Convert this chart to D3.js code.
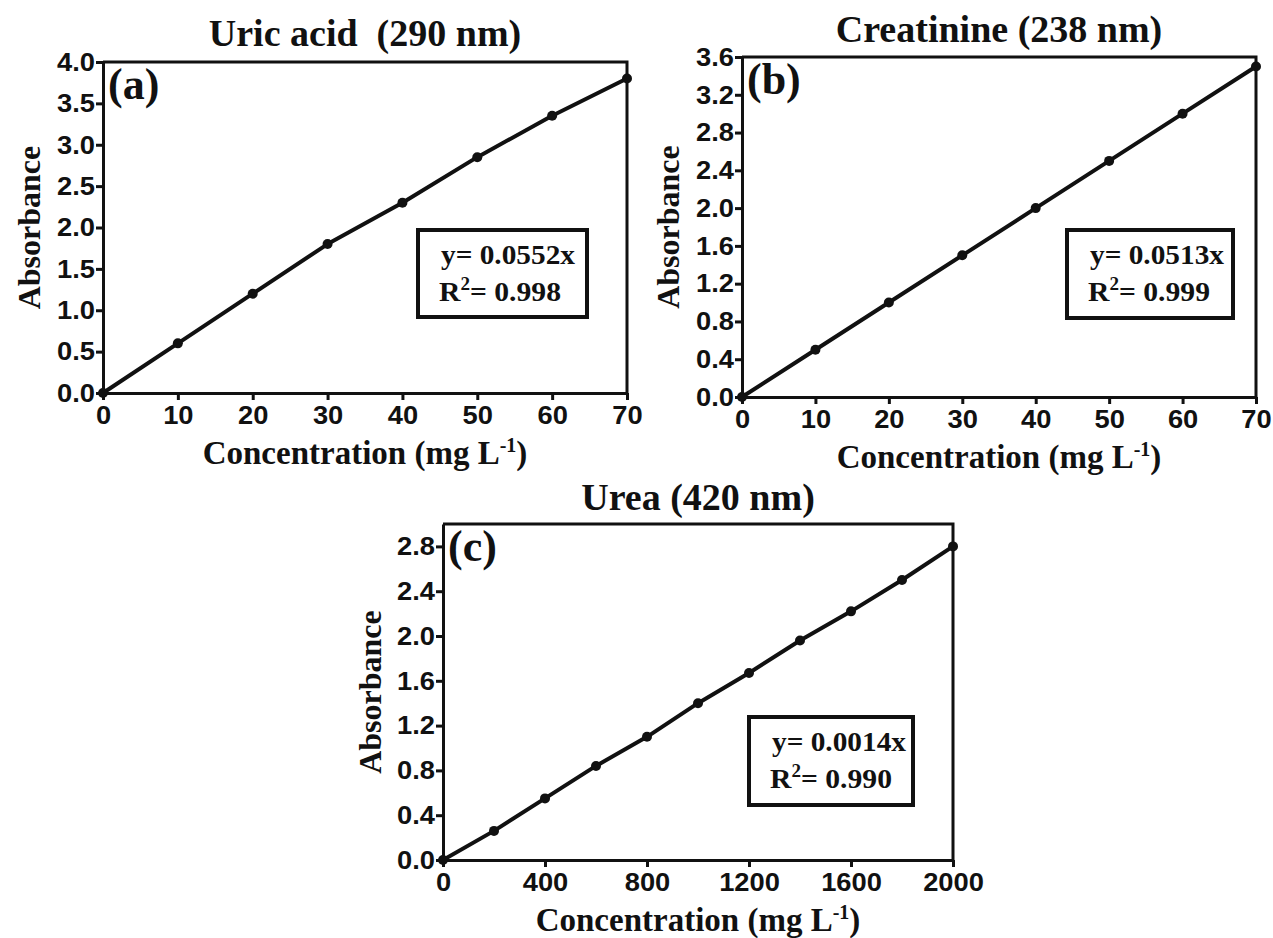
<!DOCTYPE html>
<html>
<head>
<meta charset="utf-8">
<script src="https://cdn.jsdelivr.net/npm/d3@7/dist/d3.min.js"></script>
<style>
  html, body { margin: 0; padding: 0; background: #ffffff; }
  svg { display: block; }
  .serif { font-family: "Liberation Serif", "Times New Roman", serif; font-weight: bold; fill: #111; white-space: pre; }
</style>
</head>
<body>
<svg id="chart" width="1273" height="938"></svg>
<script>
// ---- data ----
const uricConc = [0, 10, 20, 30, 40, 50, 60, 70];
const uricAbs  = [0, 0.6, 1.2, 1.8, 2.3, 2.85, 3.35, 3.8];
const uricXTicks = [0, 10, 20, 30, 40, 50, 60, 70];
const uricYTicks = [0, 0.5, 1.0, 1.5, 2.0, 2.5, 3.0, 3.5, 4.0];

const creatConc = [0, 10, 20, 30, 40, 50, 60, 70];
const creatAbs  = [0, 0.5, 1.0, 1.5, 2.0, 2.5, 3.0, 3.5];
const creatXTicks = [0, 10, 20, 30, 40, 50, 60, 70];
const creatYTicks = [0, 0.4, 0.8, 1.2, 1.6, 2.0, 2.4, 2.8, 3.2, 3.6];

const ureaConc = [0, 200, 400, 600, 800, 1000, 1200, 1400, 1600, 1800, 2000];
const ureaAbs  = [0, 0.26, 0.55, 0.84, 1.1, 1.4, 1.67, 1.96, 2.22, 2.5, 2.8];
const ureaXTicks = [0, 400, 800, 1200, 1600, 2000];
const ureaYTicks = [0, 0.4, 0.8, 1.2, 1.6, 2.0, 2.4, 2.8];

const titles = ["Uric acid  (290 nm)", "Creatinine (238 nm)", "Urea (420 nm)"];
const panelTags = ["(a)", "(b)", "(c)"];
const slopes = ["0.0552", "0.0513", "0.0014"];
const rSquared = ["0.998", "0.999", "0.990"];

// ---- layout of each panel ----
const panels = [
  { x: uricConc, y: uricAbs, xTicks: uricXTicks, yTicks: uricYTicks,
    xDom: [0, 70], yDom: [0, 4.0],
    box: { l: 103, r: 627, t: 62, b: 393 },
    titleY: 46, yLabelX: 40, legend: { l: 418, t: 230, w: 169, h: 87 } },
  { x: creatConc, y: creatAbs, xTicks: creatXTicks, yTicks: creatYTicks,
    xDom: [0, 70], yDom: [0, 3.6],
    box: { l: 742, r: 1256, t: 57, b: 397 },
    titleY: 42, yLabelX: 679, legend: { l: 1067, t: 230, w: 166, h: 88 } },
  { x: ureaConc, y: ureaAbs, xTicks: ureaXTicks, yTicks: ureaYTicks,
    xDom: [0, 2000], yDom: [0, 3.0],
    box: { l: 443, r: 953, t: 524, b: 860 },
    titleY: 510, yLabelX: 381, legend: { l: 749, t: 717, w: 164, h: 88 } }
];

const svg = d3.select("#chart");
const fmt = d3.format(".1f");
const tickStretch = 1.05;

panels.forEach((p, i) => {
  const g = svg.append("g");
  const x = d3.scaleLinear().domain(p.xDom).range([p.box.l, p.box.r]);
  const y = d3.scaleLinear().domain(p.yDom).range([p.box.b, p.box.t]);

  // top and right frame lines
  g.append("path")
    .attr("d", `M${p.box.l},${p.box.t}H${p.box.r}V${p.box.b}`)
    .attr("fill", "none").attr("stroke", "#111").attr("stroke-width", 3);

  // bottom axis
  const xa = g.append("g").attr("transform", `translate(0,${p.box.b})`)
    .call(d3.axisBottom(x).tickValues(p.xTicks).tickSize(7).tickSizeOuter(0)
      .tickPadding(6).tickFormat(d3.format("d")));
  // left axis
  const ya = g.append("g").attr("transform", `translate(${p.box.l},0)`)
    .call(d3.axisLeft(y).tickValues(p.yTicks).tickSize(7).tickSizeOuter(0)
      .tickPadding(1).tickFormat(fmt));
  [xa, ya].forEach(a => {
    a.attr("font-size", 26)
     .attr("font-family", "'Liberation Sans', Arial, sans-serif")
     .attr("font-weight", "bold");
    a.select(".domain").attr("stroke", "#111").attr("stroke-width", 3);
    a.selectAll(".tick line").attr("stroke", "#111").attr("stroke-width", 3);
    a.selectAll(".tick text").attr("fill", "#111");
  });
  // slightly wider digit glyphs on the tick labels
  [xa, ya].forEach(a => a.selectAll(".tick text").each(function() {
    const t = d3.select(this);
    const xx = +t.attr("x") || 0;
    t.attr("transform", `scale(${tickStretch},1)`).attr("x", xx / tickStretch);
  }));

  // series line and markers
  const pts = p.x.map((v, k) => [v, p.y[k]]);
  g.append("path").datum(pts)
    .attr("d", d3.line().x(d => x(d[0])).y(d => y(d[1])))
    .attr("fill", "none").attr("stroke", "#111").attr("stroke-width", 4)
    .attr("stroke-linejoin", "round");
  g.selectAll("circle.pt").data(pts).join("circle")
    .attr("class", "pt")
    .attr("cx", d => x(d[0])).attr("cy", d => y(d[1])).attr("r", 5)
    .attr("fill", "#111");

  // title
  g.append("text").attr("class", "serif")
    .attr("x", (p.box.l + p.box.r) / 2).attr("y", p.titleY)
    .attr("text-anchor", "middle").style("font-size", "38px")
    .text(titles[i]);

  // panel tag
  g.append("text").attr("class", "serif")
    .attr("x", p.box.l + 5).attr("y", p.box.t + 37)
    .style("font-size", "44px")
    .text(panelTags[i]);

  // x-axis label
  const xl = g.append("text").attr("class", "serif")
    .attr("x", (p.box.l + p.box.r) / 2).attr("y", p.box.b + 71)
    .attr("text-anchor", "middle").style("font-size", "33px");
  xl.append("tspan").text("Concentration (mg L");
  xl.append("tspan").attr("dy", -12).style("font-size", "20px").text("-1");
  xl.append("tspan").attr("dy", 12).text(")");

  // y-axis label
  g.append("text").attr("class", "serif")
    .attr("transform", `translate(${p.yLabelX},${(p.box.t + p.box.b) / 2}) rotate(-90)`)
    .attr("text-anchor", "middle").style("font-size", "32px")
    .text("Absorbance");

  // regression box
  const L = p.legend;
  g.append("rect").attr("x", L.l).attr("y", L.t).attr("width", L.w).attr("height", L.h)
    .attr("fill", "none").attr("stroke", "#111").attr("stroke-width", 4);
  g.append("text").attr("class", "serif")
    .attr("x", L.l + 23).attr("y", L.t + 34).style("font-size", "28px")
    .attr("textLength", 134).attr("lengthAdjust", "spacingAndGlyphs")
    .text(`y= ${slopes[i]}x`);
  const r2 = g.append("text").attr("class", "serif")
    .attr("x", L.l + 21).attr("y", L.t + 71).style("font-size", "28px")
    .attr("textLength", 122).attr("lengthAdjust", "spacingAndGlyphs");
  r2.append("tspan").text("R");
  r2.append("tspan").attr("dy", -11).style("font-size", "18px").text("2");
  r2.append("tspan").attr("dy", 11).text(`= ${rSquared[i]}`);
});
</script>
</body>
</html>
